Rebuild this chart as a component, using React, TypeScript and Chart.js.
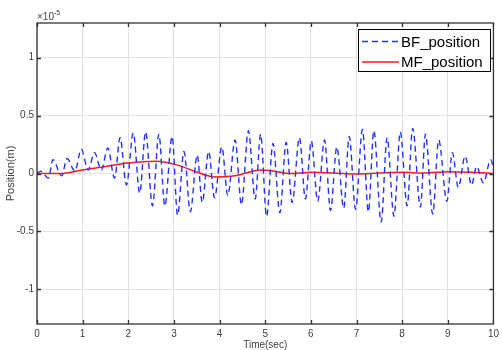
import { useEffect, useRef } from "react";
import { Chart, registerables } from "chart.js";

Chart.register(...registerables);

// Time (s) and position (x 1e-5 m) of the BF_position extrema
const bfTime = [
  0, 0.08, 0.25, 0.35, 0.54, 0.66, 0.83, 0.97, 1.12, 1.26, 1.41, 1.55, 1.7, 1.82, 1.96,
  2.11, 2.25, 2.38, 2.53, 2.67, 2.8, 2.96, 3.08, 3.22, 3.36, 3.51, 3.62, 3.76, 3.89,
  4.05, 4.18, 4.34, 4.48, 4.63, 4.78, 4.9, 5.03, 5.17, 5.32, 5.46, 5.59, 5.75, 5.88,
  6.01, 6.15, 6.3, 6.43, 6.57, 6.72, 6.84, 6.98, 7.13, 7.26, 7.38, 7.54, 7.67, 7.82,
  7.96, 8.11, 8.23, 8.4, 8.51, 8.67, 8.8, 8.98, 9.1, 9.23, 9.38, 9.52, 9.63, 9.78, 9.94, 10,
];
const bfValue = [
  0, 0.02, -0.04, 0.12, -0.02, 0.13, 0.02, 0.21, 0.03, 0.18, 0.03, 0.22, -0.04, 0.31, -0.1,
  0.35, -0.17, 0.36, -0.28, 0.34, -0.28, 0.32, -0.36, 0.19, -0.33, 0.16, -0.25, 0.19, -0.21,
  0.23, -0.19, 0.29, -0.27, 0.37, -0.22, 0.34, -0.37, 0.26, -0.34, 0.27, -0.25, 0.31, -0.22,
  0.28, -0.24, 0.29, -0.32, 0.23, -0.3, 0.32, -0.31, 0.38, -0.33, 0.37, -0.42, 0.31, -0.37,
  0.36, -0.28, 0.39, -0.29, 0.34, -0.35, 0.29, -0.24, 0.18, -0.12, 0.15, -0.1, 0.06, -0.08, 0.12, 0.05,
];

// MF_position samples (x 1e-5 m)
const mfTime = [0, 0.5, 1, 1.5, 2, 2.6, 3.1, 3.45, 3.9, 4.34, 4.9, 5.2, 5.55, 6, 6.5, 7, 7.5, 8, 8.5, 9, 9.5, 10];
const mfValue = [0, 0, 0.03, 0.06, 0.09, 0.105, 0.07, 0.02, -0.03, -0.02, 0.03, 0.02, 0, 0.01, 0.005, -0.005, 0.005, 0.01, 0.005, 0.015, 0.01, 0];

const xTicks = [0, 1, 2, 3, 4, 5, 6, 7, 8, 9, 10];
const yTicks = [-1, -0.5, 0, 0.5, 1];
const seriesLabels = ["BF_position", "MF_position"];
const exponentBase = "\u00d710";
const exponentPower = "-5";

const FONT = "'Liberation Sans', Arial, Helvetica, sans-serif";
const AXIS_COLOR = "#333333";
const TEXT_COLOR = "#404040";

const framePlugin = {
  id: "frame",
  afterDatasetsDraw(chart: any) {
    const { ctx, chartArea } = chart;
    const { left, right, top, bottom } = chartArea;
    const xs = chart.scales.x;
    const ys = chart.scales.y;
    ctx.save();
    ctx.strokeStyle = AXIS_COLOR;
    ctx.lineWidth = 1.3;
    ctx.strokeRect(left, top, right - left, bottom - top);
    const tl = 4;
    ctx.beginPath();
    xTicks.forEach((v) => {
      const px = Math.round(xs.getPixelForValue(v)) + 0.5;
      ctx.moveTo(px, bottom);
      ctx.lineTo(px, bottom - tl);
      ctx.moveTo(px, top);
      ctx.lineTo(px, top + tl);
    });
    yTicks.forEach((v) => {
      const py = Math.round(ys.getPixelForValue(v)) + 0.5;
      ctx.moveTo(left, py);
      ctx.lineTo(left + tl, py);
      ctx.moveTo(right, py);
      ctx.lineTo(right - tl, py);
    });
    ctx.stroke();

    // exponent label
    ctx.fillStyle = TEXT_COLOR;
    ctx.textBaseline = "alphabetic";
    ctx.textAlign = "left";
    ctx.font = `10px ${FONT}`;
    ctx.fillText(exponentBase, left, top - 3);
    const w = ctx.measureText(exponentBase).width;
    ctx.font = `7px ${FONT}`;
    ctx.fillText(exponentPower, left + w, top - 8);

    // legend
    const bx = 358, by = 29, bw = 132, bh = 42;
    ctx.fillStyle = "#ffffff";
    ctx.fillRect(bx, by, bw, bh);
    ctx.strokeStyle = "#000000";
    ctx.lineWidth = 1;
    ctx.strokeRect(bx + 0.5, by + 0.5, bw, bh);
    const rows = [by + 12.5, by + 33];
    chart.data.datasets.forEach((ds: any, i: number) => {
      ctx.save();
      ctx.strokeStyle = ds.borderColor;
      ctx.lineWidth = ds.borderWidth;
      ctx.setLineDash(ds.borderDash || []);
      ctx.beginPath();
      ctx.moveTo(bx + 4, rows[i]);
      ctx.lineTo(bx + 41, rows[i]);
      ctx.stroke();
      ctx.restore();
      ctx.fillStyle = "#000000";
      ctx.font = `15px ${FONT}`;
      ctx.textBaseline = "middle";
      ctx.textAlign = "left";
      ctx.fillText(ds.label, bx + 43, rows[i] + 1);
    });
    ctx.restore();
  },
};

export default function App() {
  const canvasRef = useRef<HTMLCanvasElement | null>(null);

  useEffect(() => {
    if (!canvasRef.current) return;
    const bfData = bfTime.map((t, i) => ({ x: t, y: bfValue[i] }));
    const mfData = mfTime.map((t, i) => ({ x: t, y: mfValue[i] }));
    const chart = new Chart(canvasRef.current, {
      type: "line",
      data: {
        datasets: [
          {
            label: seriesLabels[0],
            data: bfData,
            borderColor: "#2233ff",
            borderWidth: 1.4,
            borderDash: [6, 4],
            pointRadius: 0,
            cubicInterpolationMode: "monotone",
            fill: false,
          },
          {
            label: seriesLabels[1],
            data: mfData,
            borderColor: "#ff1a1a",
            borderWidth: 1.5,
            pointRadius: 0,
            cubicInterpolationMode: "monotone",
            fill: false,
          },
        ],
      },
      options: {
        animation: false,
        responsive: false,
        maintainAspectRatio: false,
        layout: { padding: { top: 23, right: 6, left: 0, bottom: 0 } },
        plugins: { legend: { display: false }, tooltip: { enabled: false } },
        scales: {
          x: {
            type: "linear",
            min: 0,
            max: 10,
            afterBuildTicks: (s: any) => {
              s.ticks = xTicks.map((v) => ({ value: v }));
            },
            afterFit: (s: any) => {
              s.height = 26;
            },
            grid: { color: "#e2e2e2", drawTicks: false, lineWidth: 1 },
            border: { display: false },
            ticks: {
              padding: 4,
              color: TEXT_COLOR,
              font: { family: FONT, size: 10 },
              maxRotation: 0,
              autoSkip: false,
              callback: (v: any) => String(v),
            },
            title: {
              display: true,
              text: "Time(sec)",
              color: TEXT_COLOR,
              font: { family: FONT, size: 10 },
              padding: { top: 0, bottom: -1 },
            },
          },
          y: {
            type: "linear",
            min: -1.3,
            max: 1.3,
            afterBuildTicks: (s: any) => {
              s.ticks = yTicks.map((v) => ({ value: v }));
            },
            afterFit: (s: any) => {
              s.width = 37;
            },
            grid: { color: "#e2e2e2", drawTicks: false, lineWidth: 1 },
            border: { display: false },
            ticks: {
              padding: 3,
              color: TEXT_COLOR,
              font: { family: FONT, size: 10 },
              autoSkip: false,
              callback: (v: any) => String(v),
            },
            title: {
              display: true,
              text: "Position(m)",
              color: TEXT_COLOR,
              font: { family: FONT, size: 11 },
              padding: { top: 4, bottom: 0 },
            },
          },
        },
      },
      plugins: [framePlugin],
    } as any);
    return () => chart.destroy();
  }, []);

  return (
    <div style={{ position: "absolute", left: 0, top: 0, width: 503, height: 350, background: "#fff" }}>
      <canvas ref={canvasRef} width={503} height={350} style={{ width: 503, height: 350, display: "block" }} />
    </div>
  );
}
